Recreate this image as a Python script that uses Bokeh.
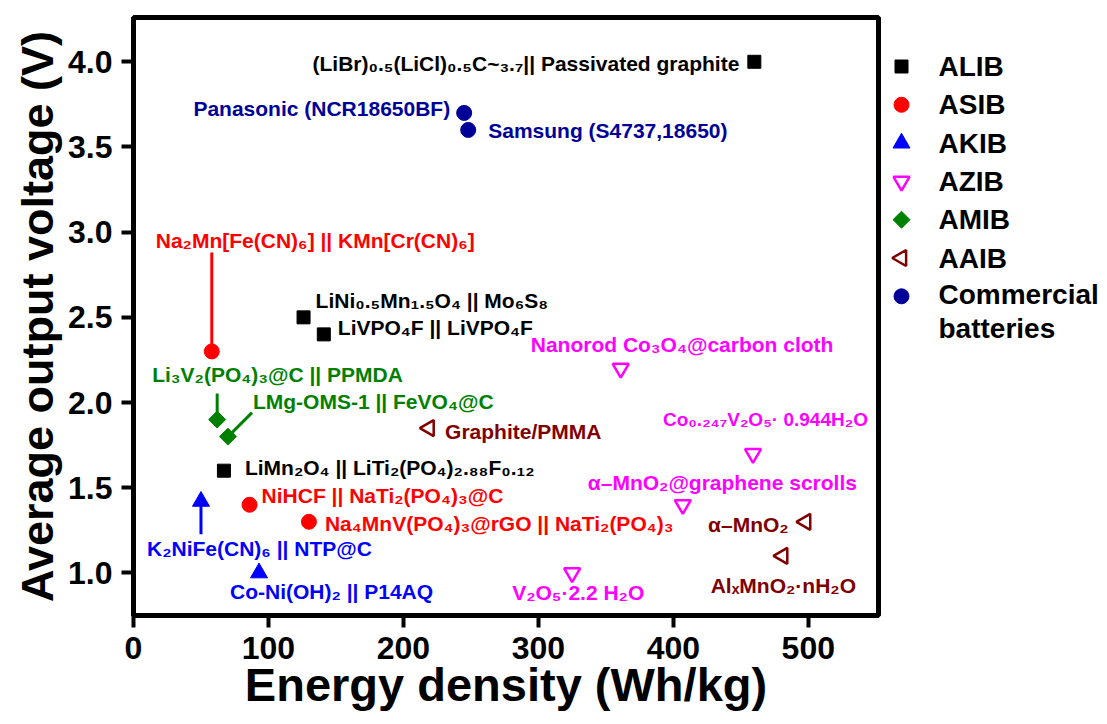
import numpy as np
from bokeh.plotting import figure
from bokeh.layouts import row
from bokeh.models import FixedTicker, NumeralTickFormatter, Range1d
from bokeh.core.properties import value
from bokeh.embed import file_html
from bokeh.resources import INLINE

# ---------------- data ----------------
alib_labels = ["(LiBr)₀.₅(LiCl)₀.₅C~₃.₇|| Passivated graphite", "LiNi₀.₅Mn₁.₅O₄ || Mo₆S₈",
               "LiVPO₄F || LiVPO₄F", "LiMn₂O₄ || LiTi₂(PO₄)₂.₈₈F₀.₁₂"]
alib_energy = [460, 126, 141, 67]
alib_voltage = [4.0, 2.5, 2.4, 1.6]

asib_labels = ["Na₂Mn[Fe(CN)₆] || KMn[Cr(CN)₆]", "NiHCF || NaTi₂(PO₄)₃@C",
               "Na₄MnV(PO₄)₃@rGO || NaTi₂(PO₄)₃"]
asib_energy = [58, 86, 130]
asib_voltage = [2.3, 1.4, 1.3]

akib_labels = ["K₂NiFe(CN)₆ || NTP@C", "Co-Ni(OH)₂ || P14AQ"]
akib_energy = [50, 93]
akib_voltage = [1.42, 1.0]

azib_labels = ["Nanorod Co₃O₄@carbon cloth", "Co₀.₂₄₇V₂O₅· 0.944H₂O",
               "α–MnO₂@graphene scrolls", "V₂O₅·2.2 H₂O"]
azib_energy = [361, 459, 407, 325]
azib_voltage = [2.2, 1.7, 1.4, 1.0]

amib_labels = ["Li₃V₂(PO₄)₃@C || PPMDA", "LMg-OMS-1 || FeVO₄@C"]
amib_energy = [62, 70]
amib_voltage = [1.9, 1.8]

aaib_labels = ["Graphite/PMMA", "α–MnO₂", "AlₓMnO₂·nH₂O"]
aaib_energy = [219, 498, 481]
aaib_voltage = [1.85, 1.3, 1.1]

comm_labels = ["Panasonic (NCR18650BF)", "Samsung (S4737,18650)"]
comm_energy = [245, 248]
comm_voltage = [3.7, 3.6]

series_names = ["ALIB", "ASIB", "AKIB", "AZIB", "AMIB", "AAIB", "Commercial\nbatteries"]
x_ticks = [0, 100, 200, 300, 400, 500]
y_ticks = [1.0, 1.5, 2.0, 2.5, 3.0, 3.5, 4.0]
x_title = "Energy density (Wh/kg)"
y_title = "Average output voltage (V)"

# ---------------- layout / style ----------------
FONT = "Liberation Sans"
X0, X1, Y0, Y1 = 0, 552, 0.75, 4.26
W, H = 1107, 724
BL, BT, BR, BB = 133, 17, 3, 109
FW, FH = 745, H - BT - BB
PW = BL + FW + BR            # main figure width
LW = W - PW                  # legend figure width
XS, YS = FW / (X1 - X0), FH / (Y1 - Y0)   # px per data unit

C_ALIB, C_ASIB, C_AKIB, C_AZIB = "black", "#ff0000", "#0000ff", "#ff00ff"
C_AMIB, C_AAIB, C_COMM = "#008000", "#800000", "#000099"

# marker styles per series (same order as series_names)
styles = [
    dict(marker="square", size=13, angle=0, fill_color=C_ALIB, line_color=C_ALIB, line_width=1),
    dict(marker="circle", size=15, angle=0, fill_color=C_ASIB, line_color=C_ASIB, line_width=1),
    dict(marker="triangle", size=17, angle=0, fill_color=C_AKIB, line_color=C_AKIB, line_width=1),
    dict(marker="inverted_triangle", size=16, angle=0, fill_color=None, line_color=C_AZIB, line_width=2.5),
    dict(marker="square", size=12, angle=np.pi / 4, fill_color=C_AMIB, line_color=C_AMIB, line_width=1),
    dict(marker="triangle", size=16, angle=np.pi / 2, fill_color=None, line_color=C_AAIB, line_width=2.5),
    dict(marker="circle", size=15, angle=0, fill_color=C_COMM, line_color=C_COMM, line_width=1),
]

# label offsets in px (dx, dy down-positive, align, font size)
alib_off = [(-15, 2, "right", 21), (12, -17, "left", 21), (14, -7, "left", 21), (21, -3, "left", 21)]
asib_off = [(-56, -111, "left", 21), (12, -9, "left", 21), (16, 2, "left", 21)]
akib_off = [(-54, 47, "left", 21), (-29, 19, "left", 21)]
azib_off = [(-90, -24, "left", 21), (-90, -34, "left", 19), (-95, -22, "left", 21),
            (-60, 20, "left", 21)]
amib_off = [(-65, -45, "left", 21), (25, -35, "left", 21)]
aaib_off = [(16, 3, "left", 21), (-17, 3, "right", 21), (-72, 30, "left", 21)]
comm_off = [(-14, -4, "right", 21), (20, 1, "left", 21)]

p = figure(width=PW, height=H, x_range=Range1d(X0, X1), y_range=Range1d(Y0, Y1),
           output_backend="svg", toolbar_location=None,
           min_border_left=BL, min_border_right=BR, min_border_top=BT, min_border_bottom=BB)
p.xgrid.visible = False
p.ygrid.visible = False
p.outline_line_color = "black"
p.outline_line_width = 5
p.outline_line_alpha = 1

for ax in (p.xaxis[0], p.yaxis[0]):
    ax.axis_line_width = 5
    ax.major_tick_line_width = 4
    ax.major_tick_out = 12
    ax.major_tick_in = 0
    ax.minor_tick_out = 0
    ax.minor_tick_in = 0
    ax.major_label_text_font = FONT
    ax.major_label_text_font_style = "bold"
    ax.major_label_text_font_size = "32px"
    ax.major_label_text_color = "black"
    ax.major_label_standoff = 9
    ax.axis_label_text_font = FONT
    ax.axis_label_text_font_style = "bold"
    ax.axis_label_text_color = "black"

p.xaxis.axis_label_text_font_size = "47px"
p.xaxis.axis_label_standoff = -4
p.yaxis.axis_label_text_font_size = "45px"
p.yaxis.axis_label_standoff = 2

p.xaxis.ticker = FixedTicker(ticks=x_ticks)
p.yaxis.ticker = FixedTicker(ticks=y_ticks)
p.yaxis.formatter = NumeralTickFormatter(format="0.0")
p.xaxis.axis_label = x_title
p.yaxis.axis_label = y_title

# leader lines (drawn first, below markers)
def seg(x, y, dx0, dy0, dx1, dy1, color):
    p.line([x + dx0 / XS, x + dx1 / XS], [y - dy0 / YS, y - dy1 / YS],
           line_color=color, line_width=3)

seg(asib_energy[0], asib_voltage[0], 0, 0, 0, -99, C_ASIB)
seg(amib_energy[0], amib_voltage[0], 0, 0, 0, -26, C_AMIB)
seg(amib_energy[1], amib_voltage[1], 0, 0, 24, -24, C_AMIB)
seg(akib_energy[0], akib_voltage[0], 0, 0, 0, 33, C_AKIB)

series = [
    (alib_energy, alib_voltage, alib_labels, alib_off, C_ALIB),
    (asib_energy, asib_voltage, asib_labels, asib_off, C_ASIB),
    (akib_energy, akib_voltage, akib_labels, akib_off, C_AKIB),
    (azib_energy, azib_voltage, azib_labels, azib_off, C_AZIB),
    (amib_energy, amib_voltage, amib_labels, amib_off, C_AMIB),
    (aaib_energy, aaib_voltage, aaib_labels, aaib_off, C_AAIB),
    (comm_energy, comm_voltage, comm_labels, comm_off, C_COMM),
]

for (xs, ys, texts, offs, color), st in zip(series, styles):
    p.scatter(xs, ys, **st)
    for x, y, t, (dx, dy, al, fs) in zip(xs, ys, texts, offs):
        p.text([x], [y], text=[t], x_offset=dx, y_offset=dy, text_align=al,
               text_baseline="middle", text_font=value(FONT), text_font_style="bold",
               text_font_size=f"{fs}px", text_color=color)

# ---------------- legend panel (separate figure, pixel coordinates) ----------------
# its frame spans the same rows as the main frame (BT .. BT+FH); y runs downward
leg = figure(width=LW, height=H, x_range=Range1d(0, LW), y_range=Range1d(BT + FH, BT),
             output_backend="svg", toolbar_location=None,
             x_axis_location=None, y_axis_location=None,
             min_border_left=0, min_border_right=0,
             min_border_top=BT, min_border_bottom=BB)
leg.xgrid.visible = False
leg.ygrid.visible = False
leg.outline_line_color = None

LEG_X, LEG_Y0, LEG_DY, LEG_TX = 20, 66, 38.3, 57
for i, (name, st) in enumerate(zip(series_names, styles)):
    yc = LEG_Y0 + i * LEG_DY
    leg.scatter([LEG_X], [yc], **st)
    nlines = name.count("\n") + 1
    leg.text([LEG_TX], [yc + (nlines - 1) * 31 / 2], text=[name], text_align="left",
             text_baseline="middle", text_font=value(FONT), text_font_style="bold",
             text_font_size="28px", text_color="black", text_line_height=1.1)

open("out.html", "w").write(file_html(row(p, leg), INLINE))
